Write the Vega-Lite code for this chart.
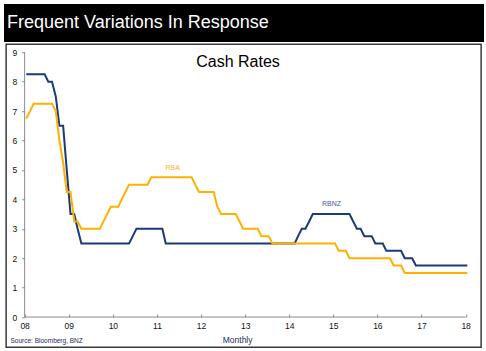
{
 "$schema": "https://vega.github.io/schema/vega-lite/v6.json",
 "background": "white",
 "padding": {"left": 4, "top": 4, "right": 2, "bottom": 2},
 "config": {"font": "Liberation Sans", "view": {"stroke": null}},
 "spacing": 1.25,
 "center": true,
 "vconcat": [
  {
   "width": 480,
   "height": 38,
   "view": {"fill": "black", "stroke": null},
   "data": {"values": [{"t": "Frequent Variations In Response"}]},
   "mark": {"type": "text", "color": "white", "fontSize": 18, "align": "left", "baseline": "alphabetic", "x": 3, "y": 24.3},
   "encoding": {"text": {"field": "t"}}
  },
  {
   "width": 475,
   "height": 303,
   "view": {"stroke": "#3a3a3a", "strokeWidth": 1.5, "fill": "white"},
   "resolve": {"axis": {"x": "independent", "y": "independent"}},
   "layer": [
    {
     "data": {"values": [
      {"d":"2008-01-15","RBNZ":8.25,"RBA":6.75},
      {"d":"2008-02-15","RBNZ":8.25,"RBA":7.0},
      {"d":"2008-03-15","RBNZ":8.25,"RBA":7.25},
      {"d":"2008-04-15","RBNZ":8.25,"RBA":7.25},
      {"d":"2008-05-15","RBNZ":8.25,"RBA":7.25},
      {"d":"2008-06-15","RBNZ":8.25,"RBA":7.25},
      {"d":"2008-07-15","RBNZ":8.0,"RBA":7.25},
      {"d":"2008-08-15","RBNZ":8.0,"RBA":7.25},
      {"d":"2008-09-15","RBNZ":7.5,"RBA":7.0},
      {"d":"2008-10-15","RBNZ":6.5,"RBA":6.0},
      {"d":"2008-11-15","RBNZ":6.5,"RBA":5.25},
      {"d":"2008-12-15","RBNZ":5.0,"RBA":4.25},
      {"d":"2009-01-15","RBNZ":3.5,"RBA":4.25},
      {"d":"2009-02-15","RBNZ":3.5,"RBA":3.25},
      {"d":"2009-03-15","RBNZ":3.0,"RBA":3.25},
      {"d":"2009-04-15","RBNZ":2.5,"RBA":3.0},
      {"d":"2009-05-15","RBNZ":2.5,"RBA":3.0},
      {"d":"2009-06-15","RBNZ":2.5,"RBA":3.0},
      {"d":"2009-07-15","RBNZ":2.5,"RBA":3.0},
      {"d":"2009-08-15","RBNZ":2.5,"RBA":3.0},
      {"d":"2009-09-15","RBNZ":2.5,"RBA":3.0},
      {"d":"2009-10-15","RBNZ":2.5,"RBA":3.25},
      {"d":"2009-11-15","RBNZ":2.5,"RBA":3.5},
      {"d":"2009-12-15","RBNZ":2.5,"RBA":3.75},
      {"d":"2010-01-15","RBNZ":2.5,"RBA":3.75},
      {"d":"2010-02-15","RBNZ":2.5,"RBA":3.75},
      {"d":"2010-03-15","RBNZ":2.5,"RBA":4.0},
      {"d":"2010-04-15","RBNZ":2.5,"RBA":4.25},
      {"d":"2010-05-15","RBNZ":2.5,"RBA":4.5},
      {"d":"2010-06-15","RBNZ":2.75,"RBA":4.5},
      {"d":"2010-07-15","RBNZ":3.0,"RBA":4.5},
      {"d":"2010-08-15","RBNZ":3.0,"RBA":4.5},
      {"d":"2010-09-15","RBNZ":3.0,"RBA":4.5},
      {"d":"2010-10-15","RBNZ":3.0,"RBA":4.5},
      {"d":"2010-11-15","RBNZ":3.0,"RBA":4.75},
      {"d":"2010-12-15","RBNZ":3.0,"RBA":4.75},
      {"d":"2011-01-15","RBNZ":3.0,"RBA":4.75},
      {"d":"2011-02-15","RBNZ":3.0,"RBA":4.75},
      {"d":"2011-03-15","RBNZ":2.5,"RBA":4.75},
      {"d":"2011-04-15","RBNZ":2.5,"RBA":4.75},
      {"d":"2011-05-15","RBNZ":2.5,"RBA":4.75},
      {"d":"2011-06-15","RBNZ":2.5,"RBA":4.75},
      {"d":"2011-07-15","RBNZ":2.5,"RBA":4.75},
      {"d":"2011-08-15","RBNZ":2.5,"RBA":4.75},
      {"d":"2011-09-15","RBNZ":2.5,"RBA":4.75},
      {"d":"2011-10-15","RBNZ":2.5,"RBA":4.75},
      {"d":"2011-11-15","RBNZ":2.5,"RBA":4.5},
      {"d":"2011-12-15","RBNZ":2.5,"RBA":4.25},
      {"d":"2012-01-15","RBNZ":2.5,"RBA":4.25},
      {"d":"2012-02-15","RBNZ":2.5,"RBA":4.25},
      {"d":"2012-03-15","RBNZ":2.5,"RBA":4.25},
      {"d":"2012-04-15","RBNZ":2.5,"RBA":4.25},
      {"d":"2012-05-15","RBNZ":2.5,"RBA":3.75},
      {"d":"2012-06-15","RBNZ":2.5,"RBA":3.5},
      {"d":"2012-07-15","RBNZ":2.5,"RBA":3.5},
      {"d":"2012-08-15","RBNZ":2.5,"RBA":3.5},
      {"d":"2012-09-15","RBNZ":2.5,"RBA":3.5},
      {"d":"2012-10-15","RBNZ":2.5,"RBA":3.5},
      {"d":"2012-11-15","RBNZ":2.5,"RBA":3.25},
      {"d":"2012-12-15","RBNZ":2.5,"RBA":3.0},
      {"d":"2013-01-15","RBNZ":2.5,"RBA":3.0},
      {"d":"2013-02-15","RBNZ":2.5,"RBA":3.0},
      {"d":"2013-03-15","RBNZ":2.5,"RBA":3.0},
      {"d":"2013-04-15","RBNZ":2.5,"RBA":3.0},
      {"d":"2013-05-15","RBNZ":2.5,"RBA":2.75},
      {"d":"2013-06-15","RBNZ":2.5,"RBA":2.75},
      {"d":"2013-07-15","RBNZ":2.5,"RBA":2.75},
      {"d":"2013-08-15","RBNZ":2.5,"RBA":2.5},
      {"d":"2013-09-15","RBNZ":2.5,"RBA":2.5},
      {"d":"2013-10-15","RBNZ":2.5,"RBA":2.5},
      {"d":"2013-11-15","RBNZ":2.5,"RBA":2.5},
      {"d":"2013-12-15","RBNZ":2.5,"RBA":2.5},
      {"d":"2014-01-15","RBNZ":2.5,"RBA":2.5},
      {"d":"2014-02-15","RBNZ":2.5,"RBA":2.5},
      {"d":"2014-03-15","RBNZ":2.75,"RBA":2.5},
      {"d":"2014-04-15","RBNZ":3.0,"RBA":2.5},
      {"d":"2014-05-15","RBNZ":3.0,"RBA":2.5},
      {"d":"2014-06-15","RBNZ":3.25,"RBA":2.5},
      {"d":"2014-07-15","RBNZ":3.5,"RBA":2.5},
      {"d":"2014-08-15","RBNZ":3.5,"RBA":2.5},
      {"d":"2014-09-15","RBNZ":3.5,"RBA":2.5},
      {"d":"2014-10-15","RBNZ":3.5,"RBA":2.5},
      {"d":"2014-11-15","RBNZ":3.5,"RBA":2.5},
      {"d":"2014-12-15","RBNZ":3.5,"RBA":2.5},
      {"d":"2015-01-15","RBNZ":3.5,"RBA":2.5},
      {"d":"2015-02-15","RBNZ":3.5,"RBA":2.25},
      {"d":"2015-03-15","RBNZ":3.5,"RBA":2.25},
      {"d":"2015-04-15","RBNZ":3.5,"RBA":2.25},
      {"d":"2015-05-15","RBNZ":3.5,"RBA":2.0},
      {"d":"2015-06-15","RBNZ":3.25,"RBA":2.0},
      {"d":"2015-07-15","RBNZ":3.0,"RBA":2.0},
      {"d":"2015-08-15","RBNZ":3.0,"RBA":2.0},
      {"d":"2015-09-15","RBNZ":2.75,"RBA":2.0},
      {"d":"2015-10-15","RBNZ":2.75,"RBA":2.0},
      {"d":"2015-11-15","RBNZ":2.75,"RBA":2.0},
      {"d":"2015-12-15","RBNZ":2.5,"RBA":2.0},
      {"d":"2016-01-15","RBNZ":2.5,"RBA":2.0},
      {"d":"2016-02-15","RBNZ":2.5,"RBA":2.0},
      {"d":"2016-03-15","RBNZ":2.25,"RBA":2.0},
      {"d":"2016-04-15","RBNZ":2.25,"RBA":2.0},
      {"d":"2016-05-15","RBNZ":2.25,"RBA":1.75},
      {"d":"2016-06-15","RBNZ":2.25,"RBA":1.75},
      {"d":"2016-07-15","RBNZ":2.25,"RBA":1.75},
      {"d":"2016-08-15","RBNZ":2.0,"RBA":1.5},
      {"d":"2016-09-15","RBNZ":2.0,"RBA":1.5},
      {"d":"2016-10-15","RBNZ":2.0,"RBA":1.5},
      {"d":"2016-11-15","RBNZ":1.75,"RBA":1.5},
      {"d":"2016-12-15","RBNZ":1.75,"RBA":1.5},
      {"d":"2017-01-15","RBNZ":1.75,"RBA":1.5},
      {"d":"2017-02-15","RBNZ":1.75,"RBA":1.5},
      {"d":"2017-03-15","RBNZ":1.75,"RBA":1.5},
      {"d":"2017-04-15","RBNZ":1.75,"RBA":1.5},
      {"d":"2017-05-15","RBNZ":1.75,"RBA":1.5},
      {"d":"2017-06-15","RBNZ":1.75,"RBA":1.5},
      {"d":"2017-07-15","RBNZ":1.75,"RBA":1.5},
      {"d":"2017-08-15","RBNZ":1.75,"RBA":1.5},
      {"d":"2017-09-15","RBNZ":1.75,"RBA":1.5},
      {"d":"2017-10-15","RBNZ":1.75,"RBA":1.5},
      {"d":"2017-11-15","RBNZ":1.75,"RBA":1.5},
      {"d":"2017-12-15","RBNZ":1.75,"RBA":1.5},
      {"d":"2018-01-15","RBNZ":1.75,"RBA":1.5}
     ]},
     "transform": [{"fold": ["RBNZ", "RBA"], "as": ["bank", "rate"]}],
     "mark": {"type": "line", "strokeWidth": 2},
     "encoding": {
      "x": {
       "field": "d", "type": "temporal",
       "scale": {"type": "utc", "domain": [1185905043537, 1525857988571], "nice": false},
       "axis": {
        "orient": "bottom", "offset": -30.2,
        "values": [{"year":2008,"utc":true},{"year":2009,"utc":true},{"year":2010,"utc":true},{"year":2011,"utc":true},{"year":2012,"utc":true},{"year":2013,"utc":true},{"year":2014,"utc":true},{"year":2015,"utc":true},{"year":2016,"utc":true},{"year":2017,"utc":true},{"year":2018,"utc":true}],
        "labelExpr": "utcFormat(datum.value, '%y')",
        "tickSize": -3, "tickColor": "#8c8c8c", "labelPadding": 7,
        "domain": false, "grid": false, "labelFlush": false, "labelOverlap": false,
        "labelFontSize": 8.5, "labelColor": "#111111",
        "title": "Monthly", "titleX": 231, "titleY": 22.5, "titleBaseline": "middle", "titleAlign": "center",
        "titleFontSize": 8.5, "titleFontWeight": "normal", "titleColor": "#1c2b55"
       }
      },
      "y": {
       "field": "rate", "type": "quantitative",
       "scale": {"domain": [-1.0265, 9.272], "nice": false, "zero": false},
       "axis": {
        "orient": "left", "offset": -18.5,
        "values": [0,1,2,3,4,5,6,7,8,9],
        "tickSize": 3, "tickColor": "#8c8c8c", "labelPadding": 5,
        "domain": false, "grid": false, "labelFlush": false, "labelOverlap": false,
        "labelFontSize": 8.5, "labelColor": "#111111", "title": null
       }
      },
      "color": {"field": "bank", "type": "nominal", "scale": {"domain": ["RBNZ", "RBA"], "range": ["#1B3A78", "#FFB000"]}, "legend": null}
     }
    },
    {
     "data": {"values": [{}]},
     "mark": {"type": "rule", "color": "#8c8c8c", "strokeWidth": 1},
     "encoding": {"x": {"datum": {"year": 2008, "utc": true}, "type": "temporal", "axis": null}, "y": {"datum": 0, "axis": null}, "y2": {"datum": 9}}
    },
    {
     "data": {"values": [{}]},
     "mark": {"type": "rule", "color": "#8c8c8c", "strokeWidth": 1},
     "encoding": {"x": {"datum": {"year": 2008, "utc": true}, "type": "temporal", "axis": null}, "x2": {"datum": {"year": 2018, "utc": true}}, "y": {"datum": 0, "axis": null}}
    },
    {
     "data": {"values": [{}]},
     "mark": {"type": "text", "text": "Cash Rates", "color": "black", "fontSize": 16, "baseline": "alphabetic", "align": "center"},
     "encoding": {"x": {"datum": {"year": 2012, "month": 11, "date": 3, "utc": true}, "type": "temporal", "axis": null}, "y": {"datum": 8.49, "axis": null}}
    },
    {
     "data": {"values": [{}]},
     "mark": {"type": "text", "text": "RBA", "color": "#F7B22A", "fontSize": 7, "baseline": "middle", "align": "center"},
     "encoding": {"x": {"datum": {"year": 2011, "month": 5, "date": 11, "utc": true}, "type": "temporal", "axis": null}, "y": {"datum": 5.08, "axis": null}}
    },
    {
     "data": {"values": [{}]},
     "mark": {"type": "text", "text": "RBNZ", "color": "#4A5E8E", "fontSize": 7, "baseline": "middle", "align": "center"},
     "encoding": {"x": {"datum": {"year": 2014, "month": 12, "date": 17, "utc": true}, "type": "temporal", "axis": null}, "y": {"datum": 3.83, "axis": null}}
    },
    {
     "data": {"values": [{}]},
     "mark": {"type": "text", "text": "Source: Bloomberg, BNZ", "color": "#1c2b55", "fontSize": 6.5, "baseline": "middle", "align": "left"},
     "encoding": {"x": {"datum": {"year": 2007, "month": 9, "date": 6, "utc": true}, "type": "temporal", "axis": null}, "y": {"datum": -0.82, "axis": null}}
    }
   ]
  }
 ]
}
